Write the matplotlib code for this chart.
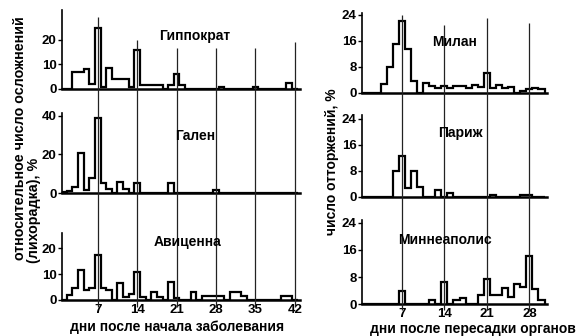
import matplotlib
matplotlib.use("Agg")
import matplotlib.pyplot as plt
import numpy as np

plt.rcParams['font.family'] = ['Liberation Sans', 'DejaVu Sans']
plt.rcParams['font.weight'] = 'bold'

# --- data: percent per day (day 1 .. N) ---
left_days = np.arange(1, 43)
hippocrates = [0, 0, 7, 7, 8, 2, 25, 1, 8.5, 4, 4, 4, 1, 16, 1.5, 1.5, 1.5, 1.5, 0, 1.5,
               6, 1.5, 0, 0, 0, 0, 0, 0, 1, 0, 0, 0, 0, 0, 1, 0, 0, 0, 0, 0, 2.5, 0]
galen = [0.5, 1, 3, 21, 1.5, 8, 39, 5, 2, 0, 5.5, 2, 0, 5, 0, 0, 0, 0, 0, 5,
         0, 0, 0, 0, 0, 0, 0, 1.5, 0, 0, 0, 0, 0, 0, 0, 0, 0, 0, 0, 0, 0, 0]
avicenna = [0, 2, 4.5, 11.5, 4, 4.5, 17.5, 4.5, 4, 0, 6.5, 1, 2.5, 11, 1, 0, 3, 1.3, 0, 7,
            0.8, 0, 0, 3, 0, 1.5, 1.5, 1.5, 1.5, 0, 3, 3, 1.5, 0, 0, 0, 0, 0, 0, 1.5, 1.5, 0]

right_days = np.arange(1, 31)
milan = [0, 0, 0, 2.7, 7.8, 15, 22, 13.4, 3.5, 0, 3, 2, 1.4, 2.1, 1.4, 2.1, 2.1, 1.4, 2.4, 1.7,
         6.2, 1.4, 2.4, 1.4, 1.9, 0, 0.6, 1, 1.6, 1]
paris = [0, 0, 0, 0, 0, 8, 12.7, 2.6, 8, 3.1, 0, 0, 2, 0, 1, 0, 0, 0, 0, 0,
         0, 0.5, 0, 0, 0, 0, 0.5, 0.5, 0, 0]
minneapolis = [0, 0, 0, 0, 0, 0, 4, 0, 0, 0, 0, 1.3, 0, 6.7, 0, 1.2, 1.9, 0, 0, 2.7,
               7.5, 2.6, 2.6, 4.8, 2.2, 6, 5.1, 14.3, 4.6, 1.2]

left_ticks = [7, 14, 21, 28, 35, 42]
right_ticks = [7, 14, 21, 28]
left_line_tops = [17, 40, 48, 48, 48, 42]
right_line_tops = [15, 25, 18, 23]

W, H = 583, 336
fig = plt.figure(figsize=(W / 100, H / 100), dpi=100)


def px_axes(x0, y0, x1, y1):
    return fig.add_axes([x0 / W, 1 - y1 / H, (x1 - x0) / W, (y1 - y0) / H])


def panel(box, days, vals, xlim, ylim, yticks, title, title_xy, xticks=None):
    ax = px_axes(*box)
    edges = np.append(days - 0.5, days[-1] + 0.5)
    ax.stairs(vals, edges, baseline=0, color='black', linewidth=1.6)
    ax.set_xlim(*xlim)
    ax.set_ylim(*ylim)
    ax.patch.set_alpha(0)
    for s in ['top', 'right']:
        ax.spines[s].set_visible(False)
    ax.spines['left'].set_linewidth(1.2)
    ax.spines['bottom'].set_linewidth(1.8)
    ax.set_yticks(yticks)
    ax.tick_params(axis='y', length=3, width=1, pad=1, labelsize=9.5)
    if xticks:
        ax.set_xticks(xticks)
        ax.tick_params(axis='x', length=0, pad=3, labelsize=9.5)
    else:
        ax.set_xticks([])
    fig.text(title_xy[0] / W, 1 - title_xy[1] / H, title, ha='center', va='center',
             fontsize=10, fontweight='bold')
    return ax


left_xlim = (0.66, 42.9)
right_xlim = (0.45, 30.9)

panel((62, 10, 300, 89), left_days, hippocrates, left_xlim, (0, 32.2), [0, 10, 20],
      'Гиппократ', (195, 36))
panel((62, 113, 300, 193), left_days, galen, left_xlim, (0, 41.5), [0, 20, 40],
      'Гален', (195, 136))
panel((62, 233, 300, 300), left_days, avicenna, left_xlim, (0, 26), [0, 10, 20],
      'Авиценна', (188, 242), xticks=left_ticks)

panel((362, 13, 547, 92.7), right_days, milan, right_xlim, (0, 24.6), [0, 8, 16, 24],
      'Милан', (455, 42))
panel((362, 115, 547, 196.7), right_days, paris, right_xlim, (0, 25.2), [0, 8, 16, 24],
      'Париж', (460, 133))
panel((362, 220, 547, 304.3), right_days, minneapolis, right_xlim, (0, 24.8), [0, 8, 16, 24],
      'Миннеаполис', (445, 240), xticks=right_ticks)

# vertical guide lines across each column
ov = px_axes(62, 0, 300, H)
ov.set_xlim(*left_xlim)
ov.set_ylim(H, 0)
ov.axis('off')
ov.vlines(left_ticks, left_line_tops, 307, color='#222222', linewidth=0.9)

ov2 = px_axes(362, 0, 547, H)
ov2.set_xlim(*right_xlim)
ov2.set_ylim(H, 0)
ov2.axis('off')
ov2.vlines(right_ticks, right_line_tops, 310, color='#222222', linewidth=0.9)

# axis labels
fig.text(20 / W, 1 - 260 / H, 'относительное число осложнений', rotation=90,
         ha='center', va='bottom', fontsize=10.3, fontweight='bold')
fig.text(34 / W, 1 - 263 / H, '(лихорадка), %', rotation=90,
         ha='center', va='bottom', fontsize=10.3, fontweight='bold')
fig.text(332 / W, 1 - 162 / H, 'число отторжений, %', rotation=90,
         ha='center', va='center', fontsize=10, fontweight='bold')
fig.text(177 / W, 1 - 327 / H, 'дни после начала заболевания',
         ha='center', va='center', fontsize=10, fontweight='bold')
fig.text(473 / W, 1 - 329 / H, 'дни после пересадки органов',
         ha='center', va='center', fontsize=10, fontweight='bold')

fig.savefig('out.png', dpi=100)
